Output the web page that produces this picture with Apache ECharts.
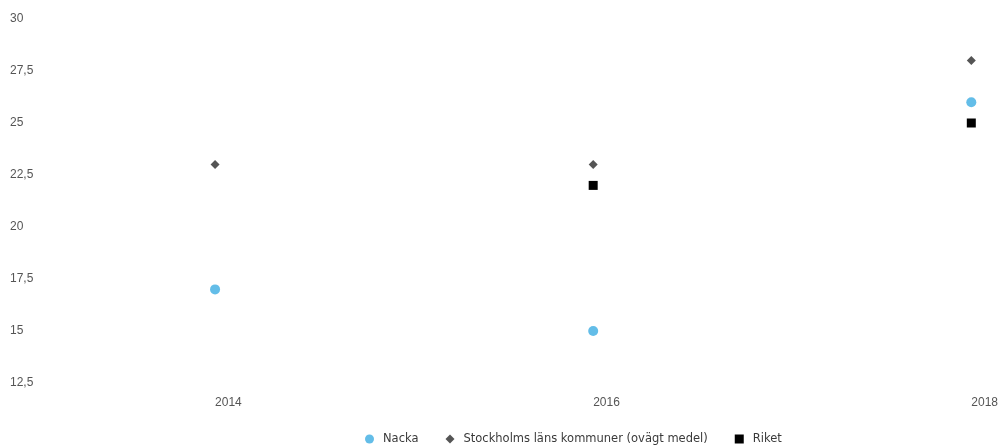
<!DOCTYPE html>
<html>
<head>
<meta charset="utf-8">
<script src="https://cdn.jsdelivr.net/npm/echarts@6/dist/echarts.min.js"></script>
<style>
html,body{margin:0;padding:0;background:#fff;}
#chart{width:1001px;height:446px;}
</style>
</head>
<body>
<div id="chart"></div>
<script>
// Years on the x axis (odd years are spacing slots without labels)
var years = ['2013', '2014', '2015', '2016', '2017', '2018'];
var labeledYears = ['2014', '2016', '2018'];

// Values per year
var nacka      = [null, 17, null, 15, null, 26];
var stockholm  = [null, 23, null, 23, null, 28];
var riket      = [null, null, null, 22, null, 25];

// Y-axis range
var yMin = 12.5, yMax = 30, yStep = 2.5;

function fmt(v) { return String(v).replace('.', ','); }

var chart = echarts.init(document.getElementById('chart'));
var axisFont = 'Liberation Sans';
var legendFont = 'DejaVu Sans';

chart.setOption({
  animation: false,
  backgroundColor: '#ffffff',
  grid: { left: 26, right: 29, top: 19, bottom: 63 },
  legend: {
    left: 360,
    top: 428,
    itemGap: 27,
    itemWidth: 9,
    itemHeight: 9,
    textStyle: { fontFamily: legendFont, fontSize: 11.5, color: '#3a3a3a', padding: [0, 0, 0, 4] },
    data: [
      { name: 'Nacka', icon: 'circle', itemStyle: { color: '#63bde8' } },
      { name: 'Stockholms läns kommuner (ovägt medel)', icon: 'diamond', itemStyle: { color: '#555555' } },
      { name: 'Riket', icon: 'rect', itemStyle: { color: '#000000' } }
    ]
  },
  xAxis: {
    type: 'category',
    data: years,
    boundaryGap: false,
    axisLine: { show: false },
    axisTick: { show: false },
    splitLine: { show: false },
    axisLabel: {
      interval: 0,
      align: 'left',
      margin: 14,
      color: '#555',
      fontFamily: axisFont,
      fontSize: 12,
      formatter: function (v) { return labeledYears.indexOf(v) >= 0 ? v : ''; }
    }
  },
  yAxis: {
    type: 'value',
    min: yMin,
    max: yMax,
    interval: yStep,
    axisLine: { show: false },
    axisTick: { show: false },
    splitLine: { show: false },
    axisLabel: {
      align: 'left',
      margin: 16,
      color: '#555',
      fontFamily: axisFont,
      fontSize: 12,
      formatter: fmt
    }
  },
  series: [
    {
      name: 'Nacka',
      type: 'scatter',
      symbol: 'circle',
      symbolSize: 10,
      itemStyle: { color: '#63bde8', opacity: 1 },
      data: nacka
    },
    {
      name: 'Stockholms läns kommuner (ovägt medel)',
      type: 'scatter',
      symbol: 'diamond',
      symbolSize: 9,
      itemStyle: { color: '#555555', opacity: 1 },
      data: stockholm
    },
    {
      name: 'Riket',
      type: 'scatter',
      symbol: 'rect',
      symbolSize: 9,
      itemStyle: { color: '#000000', opacity: 1 },
      data: riket
    }
  ]
});
</script>
</body>
</html>
